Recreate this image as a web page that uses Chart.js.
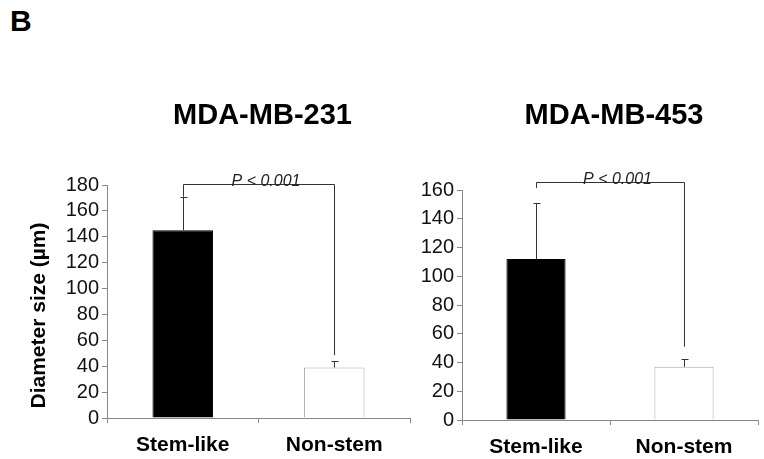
<!DOCTYPE html>
<html>
<head>
<meta charset="utf-8">
<script src="https://cdn.jsdelivr.net/npm/chart.js@4.4.0/dist/chart.umd.min.js"></script>
<style>
  body { margin: 0; background: #fff; width: 764px; height: 459px; position: relative; overflow: hidden; font-family: "Liberation Sans", Arial, sans-serif; }
  #panel { position: absolute; left: 10px; top: 4px; font-weight: bold; font-size: 30px; color: #000; }
  #c1 { position: absolute; left: 0; top: 80px; }
  #c2 { position: absolute; left: 400px; top: 80px; }
</style>
</head>
<body>
<div id="panel">B</div>
<canvas id="c1" width="420" height="379"></canvas>
<canvas id="c2" width="364" height="379"></canvas>
<script>
// data
const categories = ['Stem-like', 'Non-stem'];
const means231 = [145, 39];
const errors231 = [26, 5];
const means453 = [112, 37];
const errors453 = [39, 5.5];
const yTicks231 = [0, 180, 20];   // min, max, step
const yTicks453 = [0, 160, 20];
// significance bracket: [bar level, left end, right end] in data units
const bracket231 = [181, 171, 48.5];
const bracket453 = [165.5, 161.5, 51];
const pText = 'P < 0.001';
const yTitle = 'Diameter size (\u00b5m)';

const FONT = '"Liberation Sans", Arial, sans-serif';

// --- error bars (upper half only) ---
const errorBarPlugin = {
  id: 'errorBars',
  afterDatasetsDraw(chart) {
    const ctx = chart.ctx;
    const y = chart.scales.y;
    const errs = chart.options.plugins.errorBars.errors;
    const meta = chart.getDatasetMeta(0);
    ctx.save();
    ctx.strokeStyle = '#333';
    ctx.lineWidth = 1;
    meta.data.forEach((bar, i) => {
      const v = chart.data.datasets[0].data[i];
      const top = Math.round(y.getPixelForValue(v + errs[i])) + 0.5;
      const x = Math.round(bar.x) + 0.5;
      ctx.beginPath();
      ctx.moveTo(x, bar.y);
      ctx.lineTo(x, top);
      ctx.moveTo(x - 3, top);
      ctx.lineTo(x + 4, top);
      ctx.stroke();
    });
    ctx.restore();
  }
};

// --- significance bracket + p value ---
const bracketPlugin = {
  id: 'bracket',
  afterDraw(chart) {
    const b = chart.options.plugins.bracket.levels;
    const ctx = chart.ctx;
    const y = chart.scales.y;
    const meta = chart.getDatasetMeta(0);
    const x1 = Math.round(meta.data[0].x) + 0.5;
    const x2 = Math.round(meta.data[1].x) + 0.5;
    const yb = Math.round(y.getPixelForValue(b[0])) + 0.5;
    ctx.save();
    ctx.strokeStyle = '#333';
    ctx.lineWidth = 1;
    ctx.beginPath();
    ctx.moveTo(x1, y.getPixelForValue(b[1]));
    ctx.lineTo(x1, yb);
    ctx.lineTo(x2, yb);
    ctx.lineTo(x2, y.getPixelForValue(b[2]));
    ctx.stroke();
    ctx.fillStyle = '#222';
    ctx.font = 'italic 16px ' + FONT;
    ctx.textAlign = 'center';
    ctx.textBaseline = 'alphabetic';
    ctx.fillText(pText, (x1 + x2) / 2 + 7, yb + 1);
    ctx.restore();
  }
};

// --- panel title over the plot area, and the rotated y title ---
const labelsPlugin = {
  id: 'panelLabels',
  afterDraw(chart) {
    const o = chart.options.plugins.panelLabels;
    const ctx = chart.ctx;
    const a = chart.chartArea;
    ctx.save();
    ctx.fillStyle = '#000';
    ctx.font = 'bold 29px ' + FONT;
    ctx.textAlign = 'center';
    ctx.textBaseline = 'middle';
    ctx.fillText(o.title, (a.left + a.right) / 2 + 4, o.titleY);
    if (o.yTitle) {
      ctx.font = 'bold 21px ' + FONT;
      ctx.translate(o.yTitleX, (a.top + a.bottom) / 2 + 14);
      ctx.rotate(-Math.PI / 2);
      ctx.fillText(o.yTitle, 0, 0);
    }
    ctx.restore();
  }
};

function makeChart(id, title, means, errs, ticks, bracket, yWidth, xHeight, pad, yText) {
  return new Chart(document.getElementById(id), {
    type: 'bar',
    data: {
      labels: categories,
      datasets: [{
        data: means,
        backgroundColor: ['#000', '#fff'],
        borderColor: ['#000', '#aaa'],
        borderWidth: 1,
        barPercentage: 0.4,
        categoryPercentage: 1
      }]
    },
    options: {
      responsive: false,
      animation: false,
      layout: { padding: pad },
      plugins: {
        legend: { display: false },
        tooltip: { enabled: false },
        title: { display: false },
        errorBars: { errors: errs },
        bracket: { levels: bracket },
        panelLabels: { title: title, titleY: 36, yTitle: yText, yTitleX: 39 }
      },
      scales: {
        x: {
          grid: { drawOnChartArea: false, drawTicks: true, tickLength: 5, color: '#888', offset: true },
          border: { color: '#888' },
          ticks: { color: '#000', font: { family: FONT, size: 21, weight: 'bold' }, padding: 10 },
          afterFit(s) { s.height = xHeight; }
        },
        y: {
          min: ticks[0],
          max: ticks[1],
          grid: { drawOnChartArea: false, drawTicks: true, tickLength: 5, color: '#888' },
          border: { color: '#888' },
          ticks: { stepSize: ticks[2], autoSkip: false, color: '#111', font: { family: FONT, size: 20 }, padding: 3 },
          afterFit(s) { s.width = yWidth; }
        }
      }
    },
    plugins: [errorBarPlugin, bracketPlugin, labelsPlugin]
  });
}

makeChart('c1', 'MDA-MB-231', means231, errors231, yTicks231, bracket231,
  107, 41, { top: 105, right: 10, left: 0, bottom: 0 }, yTitle);
makeChart('c2', 'MDA-MB-453', means453, errors453, yTicks453, bracket453,
  62, 39, { top: 110, right: 6, left: 0, bottom: 0 }, null);
</script>
</body>
</html>
